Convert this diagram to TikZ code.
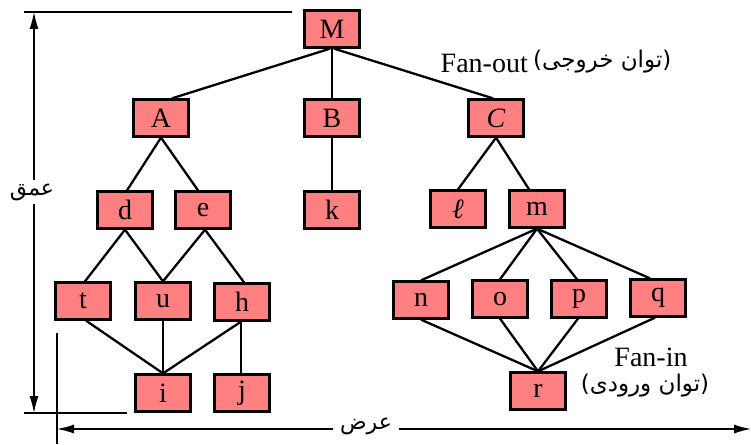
\documentclass[tikz,border=0pt]{standalone}
\usepackage{fontspec}
\setmainfont{Liberation Serif}
\newfontfamily\fa[Script=Arabic]{DejaVu Sans}
\newfontfamily\fp{DejaVu Sans}
\TeXXeTstate=1
\usetikzlibrary{arrows.meta}
\definecolor{boxred}{RGB}{255,128,128}
\tikzset{
  bx/.style={draw=black, fill=boxred, line width=2.3pt, minimum width=55pt, minimum height=37pt, inner sep=0pt, font=\fontsize{28}{30}\selectfont},
  ed/.style={line width=2.3pt},
  dim/.style={line width=1.3pt},
  dimarrow/.style={dim, {Latex[length=17pt,width=9pt]}-{Latex[length=17pt,width=9pt]}},
  lbl/.style={font=\fontsize{28}{30}\selectfont, inner sep=1pt},
  falbl/.style={font=\fontsize{23}{26}\selectfont, inner sep=1pt},
  dimlbl/.style={font=\fa\fontsize{22}{26}\selectfont, fill=white},
}
\begin{document}
\begin{tikzpicture}[x=1pt,y=-1pt]
\useasboundingbox (0,0) rectangle (751,444);
% nodes
\node[bx] (M) at (332,29) {M};
\node[bx] (A) at (161,118) {A};
\node[bx] (B) at (332,118) {B};
\node[bx] (C) at (496,118) {\textit{C}};
\node[bx] (d) at (125,210) {d};
\node[bx] (e) at (203,210) {e};
\node[bx] (k) at (332,210) {k};
\node[bx] (l) at (458,209) {\textit{ℓ}};
\node[bx] (m) at (537,209) {m};
\node[bx] (t) at (83,301) {t};
\node[bx] (u) at (163,301) {u};
\node[bx] (h) at (242,302) {h};
\node[bx] (i) at (163,393) {i};
\node[bx] (j) at (242,393) {j};
\node[bx] (n) at (421,300) {n};
\node[bx] (o) at (500,299) {o};
\node[bx] (p) at (579,299) {p};
\node[bx] (q) at (658,298) {q};
\node[bx] (r) at (538,391) {r};
% edges
\draw[ed] ([xshift=-2pt]M.south) -- ([xshift=11pt]A.north);
\draw[ed] (M.south) -- (B.north);
\draw[ed] ([xshift=2pt]M.south) -- ([xshift=-3pt]C.north);
\draw[ed] (A.south) -- ([xshift=2pt]d.north);
\draw[ed] (A.south) -- ([xshift=-5pt]e.north);
\draw[ed] (B.south) -- (k.north);
\draw[ed] (C.south) -- (l.north);
\draw[ed] (C.south) -- ([xshift=-8pt]m.north);
\draw[ed] (d.south) -- ([xshift=2pt]t.north);
\draw[ed] (d.south) -- (u.north);
\draw[ed] ([xshift=2pt]e.south) -- (u.north);
\draw[ed] ([xshift=2pt]e.south) -- ([xshift=2pt]h.north);
\draw[ed] ([xshift=3pt]t.south) -- (i.north);
\draw[ed] (u.south) -- (i.north);
\draw[ed] ([xshift=-1pt]h.south) -- (i.north);
\draw[ed] ([xshift=-1pt]h.south) -- ([xshift=-1pt]j.north);
\draw[ed] (m.south) -- (n.north);
\draw[ed] (m.south) -- (o.north);
\draw[ed] (m.south) -- ([xshift=-2pt]p.north);
\draw[ed] (m.south) -- ([xshift=-8pt]q.north);
\draw[ed] (n.south) -- (r.north);
\draw[ed] (o.south) -- (r.north);
\draw[ed] ([xshift=-1pt]p.south) -- (r.north);
\draw[ed] ([xshift=-3pt]q.south) -- (r.north);
% labels
\node[lbl, anchor=east] (fo) at (529,63) {Fan-out};
\node[falbl, anchor=west] (fofa) at ([yshift=1pt]fo.east) {\hspace{3pt}{\fp(}{\fa\beginR توان خروجی\endR}{\fp)}};
\node[lbl] (fi) at (651,357) {Fan-in};
\node[falbl] (fifa) at (645,386) {{\fp(}{\fa\beginR توان ورودی\endR}{\fp)}};
% dimension lines
\coordinate (dt1) at (24,12);
\coordinate (dt2) at (292,12);
\coordinate (db1) at (24,413);
\coordinate (db2) at (127,413);
\coordinate (vt) at (34,12);
\coordinate (vb) at (34,413);
\coordinate (wt) at (57,333);
\coordinate (wb) at (57,444);
\coordinate (hl) at (57,429);
\coordinate (hr) at (751,429);
\draw[dim] (dt1) -- (dt2);
\draw[dim] (db1) -- (db2);
\draw[dim] (wt) -- (wb);
\draw[dimarrow] (vt) -- (vb);
\draw[dimarrow] (hl) -- (hr);
\node[dimlbl, inner xsep=1pt, inner ysep=4pt] (depth) at (32,192) {\beginR عمق\endR};
\node[dimlbl, inner xsep=7pt, inner ysep=2pt] (width) at (366,426) {\beginR عرض\endR};
\end{tikzpicture}
\end{document}
